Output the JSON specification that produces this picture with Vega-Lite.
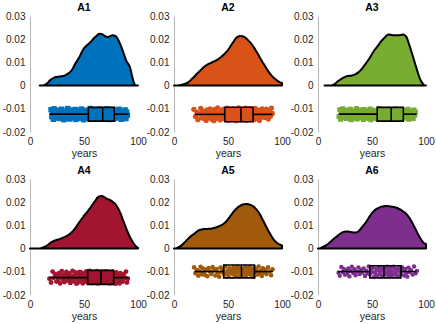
{
"$schema": "https://vega.github.io/schema/vega-lite/v6.json",
"padding": {"left": 2, "top": 2, "right": 0, "bottom": 0},
"columns": 3,
"bounds": "flush",
"spacing": {"row": 47, "column": 36},
"resolve": {"axis": {"x": "independent", "y": "independent"}},
"facet": {"field": "p", "type": "nominal", "header": {"title": null, "labelFontWeight": "bold", "labelFontSize": 10.5, "labelPadding": -2, "labelColor": "black", "labelFont": "Liberation Sans"}},
"data": {"values": [
{"p":"A1","x":9,"d":0},{"p":"A1","x":12,"d":0.0001},{"p":"A1","x":14.8,"d":0.0006},{"p":"A1","x":17,"d":0.0015},{"p":"A1","x":19.4,"d":0.0026},{"p":"A1","x":22,"d":0.0033},{"p":"A1","x":24,"d":0.0037},{"p":"A1","x":27,"d":0.0039},{"p":"A1","x":30,"d":0.0041},{"p":"A1","x":33,"d":0.0045},{"p":"A1","x":35,"d":0.0051},{"p":"A1","x":37.5,"d":0.006},{"p":"A1","x":39.5,"d":0.0073},{"p":"A1","x":42,"d":0.0095},{"p":"A1","x":45.7,"d":0.0123},{"p":"A1","x":48,"d":0.0145},{"p":"A1","x":50.3,"d":0.0163},{"p":"A1","x":53,"d":0.0175},{"p":"A1","x":55,"d":0.0183},{"p":"A1","x":57.5,"d":0.0195},{"p":"A1","x":59.6,"d":0.0206},{"p":"A1","x":62,"d":0.0216},{"p":"A1","x":64,"d":0.0223},{"p":"A1","x":66,"d":0.0222},{"p":"A1","x":67.5,"d":0.022},{"p":"A1","x":70,"d":0.0212},{"p":"A1","x":72,"d":0.0209},{"p":"A1","x":74,"d":0.0213},{"p":"A1","x":76.5,"d":0.0217},{"p":"A1","x":78.5,"d":0.0215},{"p":"A1","x":80,"d":0.021},{"p":"A1","x":82,"d":0.0195},{"p":"A1","x":84,"d":0.0173},{"p":"A1","x":86.5,"d":0.0142},{"p":"A1","x":89,"d":0.0109},{"p":"A1","x":91,"d":0.0093},{"p":"A1","x":92.5,"d":0.008},{"p":"A1","x":94.4,"d":0.0044},{"p":"A1","x":96,"d":0.0015},{"p":"A1","x":97.5,"d":0.0002},{"p":"A1","x":98.5,"d":0},{"p":"A1","x":100,"d":0},
{"p":"A2","x":0,"d":0},{"p":"A2","x":5,"d":0.0001},{"p":"A2","x":9.2,"d":0.0006},{"p":"A2","x":11.5,"d":0.001},{"p":"A2","x":13.8,"d":0.0016},{"p":"A2","x":16,"d":0.0026},{"p":"A2","x":18.5,"d":0.0037},{"p":"A2","x":21,"d":0.005},{"p":"A2","x":23,"d":0.0059},{"p":"A2","x":25.5,"d":0.007},{"p":"A2","x":27.7,"d":0.008},{"p":"A2","x":30.5,"d":0.0089},{"p":"A2","x":33.8,"d":0.0097},{"p":"A2","x":37,"d":0.0104},{"p":"A2","x":40,"d":0.0111},{"p":"A2","x":43,"d":0.0121},{"p":"A2","x":46,"d":0.0133},{"p":"A2","x":48.5,"d":0.0145},{"p":"A2","x":50.8,"d":0.0159},{"p":"A2","x":53,"d":0.0175},{"p":"A2","x":55.4,"d":0.0191},{"p":"A2","x":57,"d":0.0202},{"p":"A2","x":58.5,"d":0.0209},{"p":"A2","x":60,"d":0.0213},{"p":"A2","x":61.5,"d":0.0214},{"p":"A2","x":63,"d":0.0213},{"p":"A2","x":64.6,"d":0.0211},{"p":"A2","x":67,"d":0.0203},{"p":"A2","x":69,"d":0.0194},{"p":"A2","x":71.5,"d":0.0181},{"p":"A2","x":73.8,"d":0.0166},{"p":"A2","x":76,"d":0.0149},{"p":"A2","x":78.5,"d":0.013},{"p":"A2","x":80.5,"d":0.0112},{"p":"A2","x":83,"d":0.0094},{"p":"A2","x":85.5,"d":0.0075},{"p":"A2","x":87.7,"d":0.0059},{"p":"A2","x":90,"d":0.0045},{"p":"A2","x":92.3,"d":0.0034},{"p":"A2","x":95,"d":0.0024},{"p":"A2","x":97,"d":0.0017},{"p":"A2","x":100,"d":0.0011},
{"p":"A3","x":6,"d":0},{"p":"A3","x":10,"d":0},{"p":"A3","x":12,"d":0.0001},{"p":"A3","x":14,"d":0.0003},{"p":"A3","x":16.3,"d":0.001},{"p":"A3","x":18.6,"d":0.002},{"p":"A3","x":21,"d":0.0027},{"p":"A3","x":23.2,"d":0.0033},{"p":"A3","x":25.5,"d":0.0038},{"p":"A3","x":27.9,"d":0.0041},{"p":"A3","x":31,"d":0.0043},{"p":"A3","x":34,"d":0.0047},{"p":"A3","x":37,"d":0.0056},{"p":"A3","x":40,"d":0.0069},{"p":"A3","x":43,"d":0.0087},{"p":"A3","x":46.4,"d":0.0109},{"p":"A3","x":49,"d":0.0128},{"p":"A3","x":51,"d":0.0144},{"p":"A3","x":53.3,"d":0.0159},{"p":"A3","x":55.7,"d":0.0173},{"p":"A3","x":58,"d":0.0188},{"p":"A3","x":60.4,"d":0.0201},{"p":"A3","x":62.7,"d":0.0212},{"p":"A3","x":65,"d":0.022},{"p":"A3","x":67.3,"d":0.0219},{"p":"A3","x":69.7,"d":0.0217},{"p":"A3","x":72,"d":0.0217},{"p":"A3","x":74.3,"d":0.0217},{"p":"A3","x":76.5,"d":0.0218},{"p":"A3","x":79,"d":0.022},{"p":"A3","x":81,"d":0.0214},{"p":"A3","x":82,"d":0.0209},{"p":"A3","x":84.3,"d":0.0178},{"p":"A3","x":86.7,"d":0.0144},{"p":"A3","x":89,"d":0.0108},{"p":"A3","x":91.3,"d":0.0073},{"p":"A3","x":93,"d":0.0048},{"p":"A3","x":94.4,"d":0.003},{"p":"A3","x":96,"d":0.0015},{"p":"A3","x":97.5,"d":0.0006},{"p":"A3","x":99,"d":0},{"p":"A3","x":100,"d":0},
{"p":"A4","x":0,"d":0},{"p":"A4","x":5,"d":0},{"p":"A4","x":8.6,"d":0.0001},{"p":"A4","x":11,"d":0.0003},{"p":"A4","x":13.3,"d":0.0007},{"p":"A4","x":15.6,"d":0.0013},{"p":"A4","x":17.9,"d":0.0021},{"p":"A4","x":20,"d":0.0028},{"p":"A4","x":22.5,"d":0.0034},{"p":"A4","x":25,"d":0.0038},{"p":"A4","x":27.2,"d":0.0041},{"p":"A4","x":30,"d":0.0046},{"p":"A4","x":33.3,"d":0.0053},{"p":"A4","x":36.5,"d":0.0062},{"p":"A4","x":39.5,"d":0.0074},{"p":"A4","x":42,"d":0.0088},{"p":"A4","x":44,"d":0.0103},{"p":"A4","x":46.5,"d":0.0119},{"p":"A4","x":48.8,"d":0.0134},{"p":"A4","x":51,"d":0.0147},{"p":"A4","x":53.4,"d":0.016},{"p":"A4","x":55.7,"d":0.0175},{"p":"A4","x":58,"d":0.0191},{"p":"A4","x":60.5,"d":0.0207},{"p":"A4","x":62.7,"d":0.0221},{"p":"A4","x":64.7,"d":0.0226},{"p":"A4","x":66.7,"d":0.0227},{"p":"A4","x":68.5,"d":0.0223},{"p":"A4","x":70.4,"d":0.0217},{"p":"A4","x":72.7,"d":0.0212},{"p":"A4","x":75,"d":0.0207},{"p":"A4","x":77.3,"d":0.0199},{"p":"A4","x":79.6,"d":0.0189},{"p":"A4","x":82,"d":0.017},{"p":"A4","x":84.3,"d":0.0146},{"p":"A4","x":86.6,"d":0.0117},{"p":"A4","x":88.9,"d":0.0089},{"p":"A4","x":91.2,"d":0.0063},{"p":"A4","x":93.5,"d":0.0041},{"p":"A4","x":95.5,"d":0.0025},{"p":"A4","x":97.5,"d":0.0013},{"p":"A4","x":100,"d":0.0002},
{"p":"A5","x":0,"d":0},{"p":"A5","x":2.3,"d":0.0002},{"p":"A5","x":4.6,"d":0.0007},{"p":"A5","x":7,"d":0.0014},{"p":"A5","x":9.2,"d":0.0024},{"p":"A5","x":11.5,"d":0.0035},{"p":"A5","x":13.8,"d":0.0046},{"p":"A5","x":16,"d":0.0055},{"p":"A5","x":18.5,"d":0.0063},{"p":"A5","x":20.8,"d":0.0072},{"p":"A5","x":23,"d":0.0079},{"p":"A5","x":25.3,"d":0.0082},{"p":"A5","x":27.7,"d":0.0084},{"p":"A5","x":30.7,"d":0.0085},{"p":"A5","x":33.8,"d":0.0086},{"p":"A5","x":37,"d":0.0089},{"p":"A5","x":40,"d":0.0093},{"p":"A5","x":43,"d":0.0099},{"p":"A5","x":46,"d":0.0107},{"p":"A5","x":48.5,"d":0.0118},{"p":"A5","x":50.8,"d":0.0131},{"p":"A5","x":53,"d":0.0145},{"p":"A5","x":55.4,"d":0.016},{"p":"A5","x":57.7,"d":0.0172},{"p":"A5","x":60,"d":0.0181},{"p":"A5","x":62.3,"d":0.0187},{"p":"A5","x":64.6,"d":0.0191},{"p":"A5","x":67,"d":0.0192},{"p":"A5","x":69,"d":0.0191},{"p":"A5","x":71.5,"d":0.0187},{"p":"A5","x":73.8,"d":0.0181},{"p":"A5","x":76,"d":0.017},{"p":"A5","x":78.5,"d":0.0156},{"p":"A5","x":80.7,"d":0.0137},{"p":"A5","x":83,"d":0.0117},{"p":"A5","x":85.3,"d":0.0095},{"p":"A5","x":87.7,"d":0.0074},{"p":"A5","x":90,"d":0.0055},{"p":"A5","x":92.3,"d":0.0039},{"p":"A5","x":94.7,"d":0.0027},{"p":"A5","x":97,"d":0.0019},{"p":"A5","x":100,"d":0.0014},
{"p":"A6","x":0,"d":0},{"p":"A6","x":2.3,"d":0.0002},{"p":"A6","x":4.6,"d":0.0007},{"p":"A6","x":7,"d":0.0013},{"p":"A6","x":9.3,"d":0.002},{"p":"A6","x":11.6,"d":0.0029},{"p":"A6","x":13.9,"d":0.0039},{"p":"A6","x":16.2,"d":0.0048},{"p":"A6","x":18.6,"d":0.0057},{"p":"A6","x":20.9,"d":0.0065},{"p":"A6","x":23.2,"d":0.0071},{"p":"A6","x":25.5,"d":0.0074},{"p":"A6","x":27.5,"d":0.0074},{"p":"A6","x":29.5,"d":0.0072},{"p":"A6","x":31.5,"d":0.007},{"p":"A6","x":33.5,"d":0.0069},{"p":"A6","x":35.6,"d":0.007},{"p":"A6","x":38,"d":0.0077},{"p":"A6","x":40.2,"d":0.0089},{"p":"A6","x":42.5,"d":0.0102},{"p":"A6","x":44.9,"d":0.0117},{"p":"A6","x":47.2,"d":0.0134},{"p":"A6","x":49.5,"d":0.015},{"p":"A6","x":51.8,"d":0.0162},{"p":"A6","x":54.2,"d":0.0171},{"p":"A6","x":56.5,"d":0.0177},{"p":"A6","x":58.8,"d":0.0181},{"p":"A6","x":61,"d":0.0183},{"p":"A6","x":63.5,"d":0.0184},{"p":"A6","x":66,"d":0.0183},{"p":"A6","x":68,"d":0.0181},{"p":"A6","x":71,"d":0.0178},{"p":"A6","x":74.3,"d":0.0173},{"p":"A6","x":76.7,"d":0.0167},{"p":"A6","x":79,"d":0.016},{"p":"A6","x":81.3,"d":0.0151},{"p":"A6","x":83.6,"d":0.0139},{"p":"A6","x":86,"d":0.0122},{"p":"A6","x":88.2,"d":0.0103},{"p":"A6","x":90.5,"d":0.0082},{"p":"A6","x":92.9,"d":0.006},{"p":"A6","x":94.8,"d":0.0044},{"p":"A6","x":96.6,"d":0.0031},{"p":"A6","x":98.3,"d":0.0023},{"p":"A6","x":100,"d":0.002},
{"p":"A1","q1":54,"med":67.3,"q3":78,"lo":17.9,"hi":91.4,"yt":-0.0094,"yb":-0.0153,"ym":-0.0123},
{"p":"A2","q1":47,"med":62,"q3":73.2,"lo":19.5,"hi":91.2,"yt":-0.0093,"yb":-0.0156,"ym":-0.0124},
{"p":"A3","q1":54.8,"med":67.8,"q3":79,"lo":19.2,"hi":91.3,"yt":-0.0094,"yb":-0.0153,"ym":-0.0123},
{"p":"A4","q1":53.4,"med":65.7,"q3":77.5,"lo":17.9,"hi":91.4,"yt":-0.0094,"yb":-0.0154,"ym":-0.0125},
{"p":"A5","q1":46,"med":62.5,"q3":74.5,"lo":19,"hi":91.7,"yt":-0.0071,"yb":-0.0126,"ym":-0.0099},
{"p":"A6","q1":48,"med":61,"q3":76.8,"lo":18.6,"hi":91.3,"yt":-0.0074,"yb":-0.0126,"ym":-0.0099},
{"p":"A1","x":19.5,"y":-0.0104},{"p":"A1","x":20.2,"y":-0.0134},{"p":"A1","x":20.9,"y":-0.0117},{"p":"A1","x":21.6,"y":-0.0145},{"p":"A1","x":22.3,"y":-0.0100},{"p":"A1","x":23.0,"y":-0.0128},{"p":"A1","x":23.7,"y":-0.0112},{"p":"A1","x":24.4,"y":-0.0139},{"p":"A1","x":25.1,"y":-0.0121},{"p":"A1","x":25.8,"y":-0.0125},{"p":"A1","x":26.5,"y":-0.0106},{"p":"A1","x":27.2,"y":-0.0142},{"p":"A1","x":27.9,"y":-0.0115},{"p":"A1","x":28.6,"y":-0.0132},{"p":"A1","x":29.3,"y":-0.0102},{"p":"A1","x":30.0,"y":-0.0137},{"p":"A1","x":30.7,"y":-0.0123},{"p":"A1","x":31.4,"y":-0.0147},{"p":"A1","x":32.1,"y":-0.0109},{"p":"A1","x":32.8,"y":-0.0127},{"p":"A1","x":33.5,"y":-0.0119},{"p":"A1","x":34.2,"y":-0.0141},{"p":"A1","x":34.9,"y":-0.0099},{"p":"A1","x":35.6,"y":-0.0130},{"p":"A1","x":36.3,"y":-0.0113},{"p":"A1","x":37.0,"y":-0.0144},{"p":"A1","x":37.7,"y":-0.0105},{"p":"A1","x":38.4,"y":-0.0135},{"p":"A1","x":39.1,"y":-0.0122},{"p":"A1","x":39.8,"y":-0.0138},{"p":"A1","x":40.5,"y":-0.0111},{"p":"A1","x":41.2,"y":-0.0124},{"p":"A1","x":41.9,"y":-0.0103},{"p":"A1","x":42.6,"y":-0.0146},{"p":"A1","x":43.3,"y":-0.0116},{"p":"A1","x":44.0,"y":-0.0133},{"p":"A1","x":44.7,"y":-0.0108},{"p":"A1","x":45.4,"y":-0.0141},{"p":"A1","x":46.1,"y":-0.0120},{"p":"A1","x":46.8,"y":-0.0128},{"p":"A1","x":47.5,"y":-0.0101},{"p":"A1","x":48.2,"y":-0.0136},{"p":"A1","x":48.9,"y":-0.0113},{"p":"A1","x":49.6,"y":-0.0147},{"p":"A1","x":50.3,"y":-0.0106},{"p":"A1","x":51.0,"y":-0.0129},{"p":"A1","x":51.7,"y":-0.0118},{"p":"A1","x":52.4,"y":-0.0140},{"p":"A1","x":53.1,"y":-0.0110},{"p":"A1","x":53.8,"y":-0.0126},{"p":"A1","x":54.5,"y":-0.0122},{"p":"A1","x":55.2,"y":-0.0143},{"p":"A1","x":55.9,"y":-0.0099},{"p":"A1","x":56.6,"y":-0.0133},{"p":"A1","x":57.3,"y":-0.0115},{"p":"A1","x":58.0,"y":-0.0138},{"p":"A1","x":58.7,"y":-0.0104},{"p":"A1","x":59.4,"y":-0.0127},{"p":"A1","x":60.1,"y":-0.0120},{"p":"A1","x":60.8,"y":-0.0145},{"p":"A1","x":61.5,"y":-0.0108},{"p":"A1","x":62.2,"y":-0.0131},{"p":"A1","x":62.9,"y":-0.0114},{"p":"A1","x":63.6,"y":-0.0142},{"p":"A1","x":64.3,"y":-0.0101},{"p":"A1","x":65.0,"y":-0.0124},{"p":"A1","x":65.7,"y":-0.0118},{"p":"A1","x":66.4,"y":-0.0135},{"p":"A1","x":67.1,"y":-0.0111},{"p":"A1","x":67.8,"y":-0.0144},{"p":"A1","x":68.5,"y":-0.0105},{"p":"A1","x":69.2,"y":-0.0129},{"p":"A1","x":69.9,"y":-0.0121},{"p":"A1","x":70.6,"y":-0.0139},{"p":"A1","x":71.3,"y":-0.0100},{"p":"A1","x":72.0,"y":-0.0132},{"p":"A1","x":72.7,"y":-0.0116},{"p":"A1","x":73.4,"y":-0.0146},{"p":"A1","x":74.1,"y":-0.0109},{"p":"A1","x":74.8,"y":-0.0126},{"p":"A1","x":75.5,"y":-0.0119},{"p":"A1","x":76.2,"y":-0.0137},{"p":"A1","x":76.9,"y":-0.0103},{"p":"A1","x":77.6,"y":-0.0143},{"p":"A1","x":78.3,"y":-0.0112},{"p":"A1","x":79.0,"y":-0.0130},{"p":"A1","x":79.7,"y":-0.0107},{"p":"A1","x":80.4,"y":-0.0140},{"p":"A1","x":81.1,"y":-0.0123},{"p":"A1","x":81.8,"y":-0.0134},{"p":"A1","x":82.5,"y":-0.0102},{"p":"A1","x":83.2,"y":-0.0125},{"p":"A1","x":83.9,"y":-0.0117},{"p":"A1","x":84.6,"y":-0.0145},{"p":"A1","x":85.3,"y":-0.0110},{"p":"A1","x":86.0,"y":-0.0131},{"p":"A1","x":86.7,"y":-0.0121},{"p":"A1","x":87.4,"y":-0.0136},{"p":"A1","x":88.1,"y":-0.0105},{"p":"A1","x":88.8,"y":-0.0142},{"p":"A1","x":89.5,"y":-0.0114},{"p":"A1","x":90.2,"y":-0.0128},
{"p":"A3","x":19.5,"y":-0.0134},{"p":"A3","x":20.2,"y":-0.0104},{"p":"A3","x":20.9,"y":-0.0145},{"p":"A3","x":21.6,"y":-0.0117},{"p":"A3","x":22.3,"y":-0.0128},{"p":"A3","x":23.0,"y":-0.0100},{"p":"A3","x":23.7,"y":-0.0139},{"p":"A3","x":24.4,"y":-0.0112},{"p":"A3","x":25.1,"y":-0.0125},{"p":"A3","x":25.8,"y":-0.0121},{"p":"A3","x":26.5,"y":-0.0142},{"p":"A3","x":27.2,"y":-0.0106},{"p":"A3","x":27.9,"y":-0.0132},{"p":"A3","x":28.6,"y":-0.0115},{"p":"A3","x":29.3,"y":-0.0137},{"p":"A3","x":30.0,"y":-0.0102},{"p":"A3","x":30.7,"y":-0.0147},{"p":"A3","x":31.4,"y":-0.0123},{"p":"A3","x":32.1,"y":-0.0127},{"p":"A3","x":32.8,"y":-0.0109},{"p":"A3","x":33.5,"y":-0.0141},{"p":"A3","x":34.2,"y":-0.0119},{"p":"A3","x":34.9,"y":-0.0130},{"p":"A3","x":35.6,"y":-0.0099},{"p":"A3","x":36.3,"y":-0.0144},{"p":"A3","x":37.0,"y":-0.0113},{"p":"A3","x":37.7,"y":-0.0135},{"p":"A3","x":38.4,"y":-0.0105},{"p":"A3","x":39.1,"y":-0.0138},{"p":"A3","x":39.8,"y":-0.0122},{"p":"A3","x":40.5,"y":-0.0124},{"p":"A3","x":41.2,"y":-0.0111},{"p":"A3","x":41.9,"y":-0.0146},{"p":"A3","x":42.6,"y":-0.0103},{"p":"A3","x":43.3,"y":-0.0133},{"p":"A3","x":44.0,"y":-0.0116},{"p":"A3","x":44.7,"y":-0.0141},{"p":"A3","x":45.4,"y":-0.0108},{"p":"A3","x":46.1,"y":-0.0128},{"p":"A3","x":46.8,"y":-0.0120},{"p":"A3","x":47.5,"y":-0.0136},{"p":"A3","x":48.2,"y":-0.0101},{"p":"A3","x":48.9,"y":-0.0147},{"p":"A3","x":49.6,"y":-0.0113},{"p":"A3","x":50.3,"y":-0.0129},{"p":"A3","x":51.0,"y":-0.0106},{"p":"A3","x":51.7,"y":-0.0140},{"p":"A3","x":52.4,"y":-0.0118},{"p":"A3","x":53.1,"y":-0.0126},{"p":"A3","x":53.8,"y":-0.0110},{"p":"A3","x":54.5,"y":-0.0143},{"p":"A3","x":55.2,"y":-0.0122},{"p":"A3","x":55.9,"y":-0.0133},{"p":"A3","x":56.6,"y":-0.0099},{"p":"A3","x":57.3,"y":-0.0138},{"p":"A3","x":58.0,"y":-0.0115},{"p":"A3","x":58.7,"y":-0.0127},{"p":"A3","x":59.4,"y":-0.0104},{"p":"A3","x":60.1,"y":-0.0145},{"p":"A3","x":60.8,"y":-0.0120},{"p":"A3","x":61.5,"y":-0.0131},{"p":"A3","x":62.2,"y":-0.0108},{"p":"A3","x":62.9,"y":-0.0142},{"p":"A3","x":63.6,"y":-0.0114},{"p":"A3","x":64.3,"y":-0.0124},{"p":"A3","x":65.0,"y":-0.0101},{"p":"A3","x":65.7,"y":-0.0135},{"p":"A3","x":66.4,"y":-0.0118},{"p":"A3","x":67.1,"y":-0.0144},{"p":"A3","x":67.8,"y":-0.0111},{"p":"A3","x":68.5,"y":-0.0129},{"p":"A3","x":69.2,"y":-0.0105},{"p":"A3","x":69.9,"y":-0.0139},{"p":"A3","x":70.6,"y":-0.0121},{"p":"A3","x":71.3,"y":-0.0132},{"p":"A3","x":72.0,"y":-0.0100},{"p":"A3","x":72.7,"y":-0.0146},{"p":"A3","x":73.4,"y":-0.0116},{"p":"A3","x":74.1,"y":-0.0126},{"p":"A3","x":74.8,"y":-0.0109},{"p":"A3","x":75.5,"y":-0.0137},{"p":"A3","x":76.2,"y":-0.0119},{"p":"A3","x":76.9,"y":-0.0143},{"p":"A3","x":77.6,"y":-0.0103},{"p":"A3","x":78.3,"y":-0.0130},{"p":"A3","x":79.0,"y":-0.0112},{"p":"A3","x":79.7,"y":-0.0140},{"p":"A3","x":80.4,"y":-0.0107},{"p":"A3","x":81.1,"y":-0.0134},{"p":"A3","x":81.8,"y":-0.0123},{"p":"A3","x":82.5,"y":-0.0125},{"p":"A3","x":83.2,"y":-0.0102},{"p":"A3","x":83.9,"y":-0.0145},{"p":"A3","x":84.6,"y":-0.0117},{"p":"A3","x":85.3,"y":-0.0131},{"p":"A3","x":86.0,"y":-0.0110},{"p":"A3","x":86.7,"y":-0.0136},{"p":"A3","x":87.4,"y":-0.0121},{"p":"A3","x":88.1,"y":-0.0142},{"p":"A3","x":88.8,"y":-0.0105},{"p":"A3","x":89.5,"y":-0.0128},{"p":"A3","x":90.2,"y":-0.0114},
{"p":"A2","x":18.4,"y":-0.0102},{"p":"A2","x":19.9,"y":-0.0133},{"p":"A2","x":21.3,"y":-0.0115},{"p":"A2","x":22.1,"y":-0.0147},{"p":"A2","x":23.6,"y":-0.0122},{"p":"A2","x":24.8,"y":-0.0098},{"p":"A2","x":25.5,"y":-0.0139},{"p":"A2","x":26.4,"y":-0.0108},{"p":"A2","x":27.2,"y":-0.0129},{"p":"A2","x":28.3,"y":-0.0143},{"p":"A2","x":29.0,"y":-0.0113},{"p":"A2","x":29.8,"y":-0.0150},{"p":"A2","x":30.6,"y":-0.0105},{"p":"A2","x":31.5,"y":-0.0125},{"p":"A2","x":32.2,"y":-0.0137},{"p":"A2","x":33.4,"y":-0.0100},{"p":"A2","x":34.1,"y":-0.0118},{"p":"A2","x":34.9,"y":-0.0145},{"p":"A2","x":35.3,"y":-0.0110},{"p":"A2","x":36.2,"y":-0.0131},{"p":"A2","x":36.9,"y":-0.0151},{"p":"A2","x":37.7,"y":-0.0103},{"p":"A2","x":38.4,"y":-0.0127},{"p":"A2","x":39.1,"y":-0.0116},{"p":"A2","x":39.8,"y":-0.0141},{"p":"A2","x":40.5,"y":-0.0096},{"p":"A2","x":41.2,"y":-0.0134},{"p":"A2","x":41.9,"y":-0.0121},{"p":"A2","x":42.8,"y":-0.0148},{"p":"A2","x":43.4,"y":-0.0107},{"p":"A2","x":44.1,"y":-0.0129},{"p":"A2","x":44.7,"y":-0.0114},{"p":"A2","x":45.2,"y":-0.0138},{"p":"A2","x":45.9,"y":-0.0101},{"p":"A2","x":46.6,"y":-0.0124},{"p":"A2","x":47.3,"y":-0.0144},{"p":"A2","x":47.9,"y":-0.0112},{"p":"A2","x":48.6,"y":-0.0132},{"p":"A2","x":49.2,"y":-0.0097},{"p":"A2","x":49.8,"y":-0.0120},{"p":"A2","x":50.3,"y":-0.0150},{"p":"A2","x":50.9,"y":-0.0106},{"p":"A2","x":51.5,"y":-0.0135},{"p":"A2","x":52.1,"y":-0.0117},{"p":"A2","x":52.6,"y":-0.0142},{"p":"A2","x":53.2,"y":-0.0110},{"p":"A2","x":53.8,"y":-0.0126},{"p":"A2","x":54.3,"y":-0.0099},{"p":"A2","x":54.9,"y":-0.0146},{"p":"A2","x":55.3,"y":-0.0130},{"p":"A2","x":55.8,"y":-0.0145},{"p":"A2","x":56.4,"y":-0.0110},{"p":"A2","x":56.9,"y":-0.0131},{"p":"A2","x":57.4,"y":-0.0151},{"p":"A2","x":57.9,"y":-0.0103},{"p":"A2","x":58.5,"y":-0.0127},{"p":"A2","x":59.0,"y":-0.0116},{"p":"A2","x":59.4,"y":-0.0141},{"p":"A2","x":59.9,"y":-0.0096},{"p":"A2","x":60.4,"y":-0.0134},{"p":"A2","x":60.8,"y":-0.0121},{"p":"A2","x":61.3,"y":-0.0148},{"p":"A2","x":61.9,"y":-0.0107},{"p":"A2","x":62.4,"y":-0.0129},{"p":"A2","x":62.9,"y":-0.0114},{"p":"A2","x":63.3,"y":-0.0138},{"p":"A2","x":63.8,"y":-0.0101},{"p":"A2","x":64.3,"y":-0.0124},{"p":"A2","x":64.8,"y":-0.0144},{"p":"A2","x":65.2,"y":-0.0112},{"p":"A2","x":65.7,"y":-0.0132},{"p":"A2","x":66.3,"y":-0.0097},{"p":"A2","x":66.8,"y":-0.0120},{"p":"A2","x":67.2,"y":-0.0150},{"p":"A2","x":67.7,"y":-0.0106},{"p":"A2","x":68.3,"y":-0.0135},{"p":"A2","x":68.8,"y":-0.0117},{"p":"A2","x":69.2,"y":-0.0142},{"p":"A2","x":69.7,"y":-0.0110},{"p":"A2","x":70.3,"y":-0.0126},{"p":"A2","x":70.8,"y":-0.0099},{"p":"A2","x":71.4,"y":-0.0146},{"p":"A2","x":72.0,"y":-0.0130},{"p":"A2","x":72.5,"y":-0.0102},{"p":"A2","x":73.1,"y":-0.0133},{"p":"A2","x":73.6,"y":-0.0115},{"p":"A2","x":74.2,"y":-0.0147},{"p":"A2","x":74.8,"y":-0.0122},{"p":"A2","x":75.3,"y":-0.0098},{"p":"A2","x":75.9,"y":-0.0139},{"p":"A2","x":76.6,"y":-0.0108},{"p":"A2","x":77.2,"y":-0.0129},{"p":"A2","x":77.9,"y":-0.0143},{"p":"A2","x":78.5,"y":-0.0113},{"p":"A2","x":79.1,"y":-0.0150},{"p":"A2","x":79.7,"y":-0.0105},{"p":"A2","x":80.4,"y":-0.0125},{"p":"A2","x":81.1,"y":-0.0137},{"p":"A2","x":81.8,"y":-0.0100},{"p":"A2","x":82.6,"y":-0.0118},{"p":"A2","x":83.3,"y":-0.0129},{"p":"A2","x":84.0,"y":-0.0114},{"p":"A2","x":84.7,"y":-0.0138},{"p":"A2","x":85.5,"y":-0.0101},{"p":"A2","x":86.4,"y":-0.0124},{"p":"A2","x":87.4,"y":-0.0144},{"p":"A2","x":88.3,"y":-0.0112},{"p":"A2","x":89.3,"y":-0.0132},{"p":"A2","x":90.2,"y":-0.0097},{"p":"A2","x":91.0,"y":-0.0120},
{"p":"A4","x":18.0,"y":-0.0130},{"p":"A4","x":19.5,"y":-0.0146},{"p":"A4","x":20.9,"y":-0.0099},{"p":"A4","x":21.7,"y":-0.0126},{"p":"A4","x":23.2,"y":-0.0110},{"p":"A4","x":24.4,"y":-0.0142},{"p":"A4","x":25.1,"y":-0.0117},{"p":"A4","x":26.0,"y":-0.0135},{"p":"A4","x":26.8,"y":-0.0106},{"p":"A4","x":27.9,"y":-0.0150},{"p":"A4","x":28.6,"y":-0.0120},{"p":"A4","x":29.4,"y":-0.0097},{"p":"A4","x":30.2,"y":-0.0132},{"p":"A4","x":31.1,"y":-0.0112},{"p":"A4","x":31.8,"y":-0.0144},{"p":"A4","x":33.0,"y":-0.0124},{"p":"A4","x":33.7,"y":-0.0101},{"p":"A4","x":34.5,"y":-0.0138},{"p":"A4","x":34.9,"y":-0.0114},{"p":"A4","x":35.8,"y":-0.0129},{"p":"A4","x":36.5,"y":-0.0107},{"p":"A4","x":37.3,"y":-0.0148},{"p":"A4","x":38.0,"y":-0.0121},{"p":"A4","x":38.7,"y":-0.0134},{"p":"A4","x":39.4,"y":-0.0096},{"p":"A4","x":40.1,"y":-0.0141},{"p":"A4","x":40.8,"y":-0.0116},{"p":"A4","x":41.5,"y":-0.0127},{"p":"A4","x":42.4,"y":-0.0103},{"p":"A4","x":43.0,"y":-0.0151},{"p":"A4","x":43.7,"y":-0.0131},{"p":"A4","x":44.3,"y":-0.0110},{"p":"A4","x":44.8,"y":-0.0145},{"p":"A4","x":45.5,"y":-0.0118},{"p":"A4","x":46.2,"y":-0.0100},{"p":"A4","x":46.9,"y":-0.0137},{"p":"A4","x":47.5,"y":-0.0125},{"p":"A4","x":48.2,"y":-0.0105},{"p":"A4","x":48.8,"y":-0.0150},{"p":"A4","x":49.4,"y":-0.0113},{"p":"A4","x":49.9,"y":-0.0143},{"p":"A4","x":50.5,"y":-0.0129},{"p":"A4","x":51.1,"y":-0.0108},{"p":"A4","x":51.7,"y":-0.0139},{"p":"A4","x":52.2,"y":-0.0098},{"p":"A4","x":52.8,"y":-0.0122},{"p":"A4","x":53.4,"y":-0.0147},{"p":"A4","x":53.9,"y":-0.0115},{"p":"A4","x":54.5,"y":-0.0133},{"p":"A4","x":54.9,"y":-0.0102},{"p":"A4","x":55.4,"y":-0.0096},{"p":"A4","x":56.0,"y":-0.0134},{"p":"A4","x":56.5,"y":-0.0121},{"p":"A4","x":57.0,"y":-0.0148},{"p":"A4","x":57.5,"y":-0.0107},{"p":"A4","x":58.1,"y":-0.0129},{"p":"A4","x":58.6,"y":-0.0114},{"p":"A4","x":59.0,"y":-0.0138},{"p":"A4","x":59.5,"y":-0.0101},{"p":"A4","x":60.0,"y":-0.0124},{"p":"A4","x":60.4,"y":-0.0144},{"p":"A4","x":60.9,"y":-0.0112},{"p":"A4","x":61.5,"y":-0.0132},{"p":"A4","x":62.0,"y":-0.0097},{"p":"A4","x":62.5,"y":-0.0120},{"p":"A4","x":62.9,"y":-0.0150},{"p":"A4","x":63.4,"y":-0.0106},{"p":"A4","x":63.9,"y":-0.0135},{"p":"A4","x":64.4,"y":-0.0117},{"p":"A4","x":64.8,"y":-0.0142},{"p":"A4","x":65.3,"y":-0.0110},{"p":"A4","x":65.9,"y":-0.0126},{"p":"A4","x":66.4,"y":-0.0099},{"p":"A4","x":66.8,"y":-0.0146},{"p":"A4","x":67.3,"y":-0.0130},{"p":"A4","x":67.9,"y":-0.0102},{"p":"A4","x":68.4,"y":-0.0133},{"p":"A4","x":68.8,"y":-0.0115},{"p":"A4","x":69.3,"y":-0.0147},{"p":"A4","x":69.9,"y":-0.0122},{"p":"A4","x":70.4,"y":-0.0098},{"p":"A4","x":71.0,"y":-0.0139},{"p":"A4","x":71.6,"y":-0.0108},{"p":"A4","x":72.1,"y":-0.0129},{"p":"A4","x":72.7,"y":-0.0143},{"p":"A4","x":73.2,"y":-0.0113},{"p":"A4","x":73.8,"y":-0.0150},{"p":"A4","x":74.4,"y":-0.0105},{"p":"A4","x":74.9,"y":-0.0125},{"p":"A4","x":75.5,"y":-0.0137},{"p":"A4","x":76.2,"y":-0.0100},{"p":"A4","x":76.8,"y":-0.0118},{"p":"A4","x":77.5,"y":-0.0145},{"p":"A4","x":78.1,"y":-0.0110},{"p":"A4","x":78.7,"y":-0.0131},{"p":"A4","x":79.3,"y":-0.0151},{"p":"A4","x":80.0,"y":-0.0103},{"p":"A4","x":80.7,"y":-0.0127},{"p":"A4","x":81.4,"y":-0.0116},{"p":"A4","x":82.2,"y":-0.0141},{"p":"A4","x":82.9,"y":-0.0150},{"p":"A4","x":83.6,"y":-0.0106},{"p":"A4","x":84.3,"y":-0.0135},{"p":"A4","x":85.1,"y":-0.0117},{"p":"A4","x":86.0,"y":-0.0142},{"p":"A4","x":87.0,"y":-0.0110},{"p":"A4","x":87.9,"y":-0.0126},{"p":"A4","x":88.9,"y":-0.0099},{"p":"A4","x":89.8,"y":-0.0146},{"p":"A4","x":90.6,"y":-0.0130},
{"p":"A5","x":18.6,"y":-0.0081},{"p":"A5","x":19.8,"y":-0.0106},{"p":"A5","x":21.2,"y":-0.0092},{"p":"A5","x":22.5,"y":-0.0117},{"p":"A5","x":23.4,"y":-0.0098},{"p":"A5","x":24.6,"y":-0.0078},{"p":"A5","x":25.7,"y":-0.0111},{"p":"A5","x":26.8,"y":-0.0086},{"p":"A5","x":27.6,"y":-0.0103},{"p":"A5","x":28.7,"y":-0.0114},{"p":"A5","x":29.6,"y":-0.0090},{"p":"A5","x":30.9,"y":-0.0119},{"p":"A5","x":32.1,"y":-0.0084},{"p":"A5","x":33.3,"y":-0.0099},{"p":"A5","x":34.4,"y":-0.0109},{"p":"A5","x":35.8,"y":-0.0080},{"p":"A5","x":37.0,"y":-0.0094},{"p":"A5","x":38.2,"y":-0.0116},{"p":"A5","x":39.4,"y":-0.0088},{"p":"A5","x":40.7,"y":-0.0104},{"p":"A5","x":41.9,"y":-0.0121},{"p":"A5","x":43.1,"y":-0.0082},{"p":"A5","x":44.3,"y":-0.0101},{"p":"A5","x":45.4,"y":-0.0093},{"p":"A5","x":46.5,"y":-0.0112},{"p":"A5","x":47.6,"y":-0.0077},{"p":"A5","x":48.6,"y":-0.0107},{"p":"A5","x":49.6,"y":-0.0096},{"p":"A5","x":50.5,"y":-0.0118},{"p":"A5","x":51.5,"y":-0.0085},{"p":"A5","x":52.4,"y":-0.0103},{"p":"A5","x":53.4,"y":-0.0091},{"p":"A5","x":54.4,"y":-0.0110},{"p":"A5","x":55.2,"y":-0.0081},{"p":"A5","x":55.9,"y":-0.0099},{"p":"A5","x":56.7,"y":-0.0115},{"p":"A5","x":57.4,"y":-0.0089},{"p":"A5","x":58.1,"y":-0.0105},{"p":"A5","x":58.8,"y":-0.0078},{"p":"A5","x":59.6,"y":-0.0096},{"p":"A5","x":60.4,"y":-0.0120},{"p":"A5","x":61.3,"y":-0.0085},{"p":"A5","x":62.1,"y":-0.0108},{"p":"A5","x":62.9,"y":-0.0093},{"p":"A5","x":63.7,"y":-0.0113},{"p":"A5","x":64.5,"y":-0.0088},{"p":"A5","x":65.2,"y":-0.0101},{"p":"A5","x":65.9,"y":-0.0079},{"p":"A5","x":66.6,"y":-0.0117},{"p":"A5","x":67.3,"y":-0.0104},{"p":"A5","x":68.0,"y":-0.0084},{"p":"A5","x":68.8,"y":-0.0099},{"p":"A5","x":69.5,"y":-0.0109},{"p":"A5","x":70.2,"y":-0.0080},{"p":"A5","x":70.9,"y":-0.0094},{"p":"A5","x":71.6,"y":-0.0116},{"p":"A5","x":72.3,"y":-0.0088},{"p":"A5","x":73.1,"y":-0.0104},{"p":"A5","x":73.8,"y":-0.0121},{"p":"A5","x":74.6,"y":-0.0082},{"p":"A5","x":75.4,"y":-0.0101},{"p":"A5","x":76.4,"y":-0.0093},{"p":"A5","x":77.4,"y":-0.0112},{"p":"A5","x":78.4,"y":-0.0077},{"p":"A5","x":79.4,"y":-0.0107},{"p":"A5","x":80.3,"y":-0.0096},{"p":"A5","x":81.3,"y":-0.0118},{"p":"A5","x":82.3,"y":-0.0085},{"p":"A5","x":83.3,"y":-0.0103},{"p":"A5","x":84.3,"y":-0.0091},{"p":"A5","x":85.6,"y":-0.0110},{"p":"A5","x":87.1,"y":-0.0081},{"p":"A5","x":88.5,"y":-0.0099},{"p":"A5","x":89.9,"y":-0.0115},{"p":"A5","x":91.3,"y":-0.0089},
{"p":"A6","x":19.0,"y":-0.0104},{"p":"A6","x":20.2,"y":-0.0117},{"p":"A6","x":21.6,"y":-0.0079},{"p":"A6","x":22.9,"y":-0.0101},{"p":"A6","x":23.8,"y":-0.0088},{"p":"A6","x":25.0,"y":-0.0113},{"p":"A6","x":26.1,"y":-0.0093},{"p":"A6","x":27.2,"y":-0.0108},{"p":"A6","x":28.0,"y":-0.0085},{"p":"A6","x":29.1,"y":-0.0120},{"p":"A6","x":30.0,"y":-0.0096},{"p":"A6","x":31.3,"y":-0.0078},{"p":"A6","x":32.5,"y":-0.0105},{"p":"A6","x":33.7,"y":-0.0089},{"p":"A6","x":34.8,"y":-0.0115},{"p":"A6","x":36.2,"y":-0.0099},{"p":"A6","x":37.4,"y":-0.0081},{"p":"A6","x":38.6,"y":-0.0110},{"p":"A6","x":39.8,"y":-0.0091},{"p":"A6","x":41.1,"y":-0.0103},{"p":"A6","x":42.3,"y":-0.0085},{"p":"A6","x":43.5,"y":-0.0118},{"p":"A6","x":44.7,"y":-0.0096},{"p":"A6","x":45.8,"y":-0.0107},{"p":"A6","x":46.9,"y":-0.0077},{"p":"A6","x":48.0,"y":-0.0112},{"p":"A6","x":49.0,"y":-0.0093},{"p":"A6","x":50.0,"y":-0.0101},{"p":"A6","x":50.9,"y":-0.0082},{"p":"A6","x":51.9,"y":-0.0121},{"p":"A6","x":52.8,"y":-0.0104},{"p":"A6","x":53.8,"y":-0.0088},{"p":"A6","x":54.8,"y":-0.0116},{"p":"A6","x":55.6,"y":-0.0094},{"p":"A6","x":56.3,"y":-0.0080},{"p":"A6","x":57.1,"y":-0.0109},{"p":"A6","x":57.8,"y":-0.0099},{"p":"A6","x":58.5,"y":-0.0084},{"p":"A6","x":59.2,"y":-0.0119},{"p":"A6","x":60.0,"y":-0.0090},{"p":"A6","x":60.8,"y":-0.0114},{"p":"A6","x":61.7,"y":-0.0103},{"p":"A6","x":62.5,"y":-0.0086},{"p":"A6","x":63.3,"y":-0.0111},{"p":"A6","x":64.1,"y":-0.0078},{"p":"A6","x":64.9,"y":-0.0098},{"p":"A6","x":65.6,"y":-0.0117},{"p":"A6","x":66.3,"y":-0.0092},{"p":"A6","x":67.0,"y":-0.0106},{"p":"A6","x":67.7,"y":-0.0081},{"p":"A6","x":68.4,"y":-0.0117},{"p":"A6","x":69.2,"y":-0.0098},{"p":"A6","x":69.9,"y":-0.0078},{"p":"A6","x":70.6,"y":-0.0111},{"p":"A6","x":71.3,"y":-0.0086},{"p":"A6","x":72.0,"y":-0.0103},{"p":"A6","x":72.7,"y":-0.0114},{"p":"A6","x":73.5,"y":-0.0090},{"p":"A6","x":74.2,"y":-0.0119},{"p":"A6","x":75.0,"y":-0.0084},{"p":"A6","x":75.8,"y":-0.0099},{"p":"A6","x":76.8,"y":-0.0109},{"p":"A6","x":77.8,"y":-0.0080},{"p":"A6","x":78.8,"y":-0.0094},{"p":"A6","x":79.8,"y":-0.0116},{"p":"A6","x":80.7,"y":-0.0088},{"p":"A6","x":81.7,"y":-0.0104},{"p":"A6","x":82.7,"y":-0.0121},{"p":"A6","x":83.7,"y":-0.0082},{"p":"A6","x":84.7,"y":-0.0101},{"p":"A6","x":86.0,"y":-0.0093},{"p":"A6","x":87.5,"y":-0.0112},{"p":"A6","x":88.9,"y":-0.0077},{"p":"A6","x":90.3,"y":-0.0107},{"p":"A6","x":91.7,"y":-0.0096}
]},
"spec": {
"width": 108,
"height": 116,
"layer": [
{"transform": [{"filter": "isValid(datum.d)"}],
 "mark": {"type": "area", "interpolate": "monotone", "stroke": "black", "strokeWidth": 2, "strokeJoin": "round", "fillOpacity": 1},
 "encoding": {
  "x": {"field": "x", "type": "quantitative", "title": "years", "scale": {"domain": [0, 100], "nice": false}, "axis": {"values": [0, 50, 100]}},
  "y": {"field": "d", "type": "quantitative", "title": null, "scale": {"domain": [-0.02, 0.03], "nice": false}, "axis": {"values": [-0.02, -0.01, 0, 0.01, 0.02, 0.03], "labelOverlap": false, "labelExpr": "replace(format(datum.value, '~g'), '\u2212', '-')"}},
  "color": {"field": "p", "type": "nominal", "scale": {"domain": ["A1","A2","A3","A4","A5","A6"], "range": ["#0072BD","#D95319","#77AC30","#A2142F","#A15A0B","#7E2F8E"]}, "legend": null}
 }},
{"transform": [{"filter": "isValid(datum.y)"}],
 "mark": {"type": "point", "filled": true, "opacity": 1},
 "encoding": {
  "x": {"field": "x", "type": "quantitative", "title": "years", "axis": {"values": [0, 50, 100]}},
  "y": {"field": "y", "type": "quantitative", "title": null, "axis": {"values": [-0.02, -0.01, 0, 0.01, 0.02, 0.03], "labelOverlap": false, "labelExpr": "replace(format(datum.value, '~g'), '\u2212', '-')"}},
  "color": {"field": "p", "type": "nominal", "legend": null},
  "shape": {"field": "p", "type": "nominal", "scale": {"domain": ["A1","A2","A3","A4","A5","A6"], "range": ["square","circle","square","circle","circle","circle"]}, "legend": null},
  "size": {"field": "p", "type": "ordinal", "scale": {"domain": ["A1","A2","A3","A4","A5","A6"], "range": [30, 19, 30, 19, 15, 15]}, "legend": null}
 }},
{"transform": [{"filter": "isValid(datum.q1)"}],
 "mark": {"type": "rect", "filled": false, "stroke": "black", "strokeWidth": 1.6},
 "encoding": {
  "x": {"field": "q1", "type": "quantitative", "title": "years", "axis": {"values": [0, 50, 100]}},
  "x2": {"field": "q3"},
  "y": {"field": "yt", "type": "quantitative", "title": null, "axis": {"values": [-0.02, -0.01, 0, 0.01, 0.02, 0.03], "labelOverlap": false, "labelExpr": "replace(format(datum.value, '~g'), '\u2212', '-')"}},
  "y2": {"field": "yb"}
 }},
{"transform": [{"filter": "isValid(datum.q1)"}],
 "mark": {"type": "rule", "color": "black", "strokeWidth": 1.6},
 "encoding": {
  "x": {"field": "med", "type": "quantitative", "title": "years", "axis": {"values": [0, 50, 100]}},
  "y": {"field": "yt", "type": "quantitative", "title": null, "axis": {"values": [-0.02, -0.01, 0, 0.01, 0.02, 0.03], "labelOverlap": false, "labelExpr": "replace(format(datum.value, '~g'), '\u2212', '-')"}},
  "y2": {"field": "yb"}
 }},
{"transform": [{"filter": "isValid(datum.q1)"}],
 "mark": {"type": "rule", "color": "black", "strokeWidth": 1.6},
 "encoding": {
  "x": {"field": "lo", "type": "quantitative", "title": "years", "axis": {"values": [0, 50, 100]}},
  "x2": {"field": "q1"},
  "y": {"field": "ym", "type": "quantitative", "title": null, "axis": {"values": [-0.02, -0.01, 0, 0.01, 0.02, 0.03], "labelOverlap": false, "labelExpr": "replace(format(datum.value, '~g'), '\u2212', '-')"}}
 }},
{"transform": [{"filter": "isValid(datum.q1)"}],
 "mark": {"type": "rule", "color": "black", "strokeWidth": 1.6},
 "encoding": {
  "x": {"field": "q3", "type": "quantitative", "title": "years", "axis": {"values": [0, 50, 100]}},
  "x2": {"field": "hi"},
  "y": {"field": "ym", "type": "quantitative", "title": null, "axis": {"values": [-0.02, -0.01, 0, 0.01, 0.02, 0.03], "labelOverlap": false, "labelExpr": "replace(format(datum.value, '~g'), '\u2212', '-')"}}
 }}
]
},
"config": {
 "view": {"stroke": null},
 "font": "Liberation Sans",
 "axis": {"grid": false, "ticks": false, "labelFont": "Liberation Sans", "labelFontSize": 10, "labelColor": "#262626", "titleFont": "Liberation Sans", "titleFontSize": 10.5, "titleFontWeight": "normal", "titleColor": "#262626"},
 "axisX": {"domain": false, "labelPadding": 4, "titlePadding": 2, "labelFlush": false, "labelOverlap": false},
 "axisY": {"domainColor": "#b8b8b8", "domainWidth": 1, "labelPadding": 5, "labelOverlap": false}
}
}
